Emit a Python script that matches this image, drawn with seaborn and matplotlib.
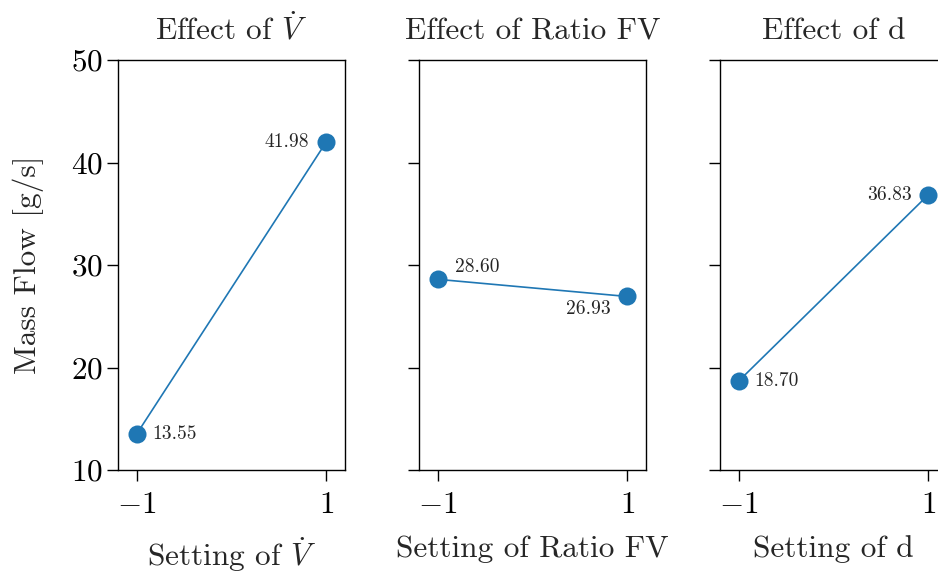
import numpy as np
import pandas as pd
import matplotlib
matplotlib.use("Agg")
import matplotlib.pyplot as plt
import seaborn as sns

# Main-effect data: mean mass flow at each factor setting
factors = [r"$\dot{V}$", "Ratio FV", "d"]
settings = [-1, 1]
mass_flow_vdot = [13.55, 41.98]
mass_flow_ratio = [28.60, 26.93]
mass_flow_d = [18.70, 36.83]
y_ticks = [10, 20, 30, 40, 50]

series = [mass_flow_vdot, mass_flow_ratio, mass_flow_d]
# label placement (offset points, alignment) for the low / high setting
label_offsets = [
    [((11, 0), "left", "center"), ((-12, 0), "right", "center")],
    [((12, 9), "left", "center"), ((-12, -9), "right", "center")],
    [((11, 0), "left", "center"), ((-12, 0), "right", "center")],
]

sns.set_style("ticks")
plt.rcParams.update({
    "font.family": "cmr10",
    "mathtext.fontset": "cm",
    "axes.formatter.use_mathtext": True,
    "axes.unicode_minus": True,
    "axes.edgecolor": "black",
    "axes.linewidth": 1.0,
    "xtick.color": "black",
    "ytick.color": "black",
    "xtick.major.size": 8,
    "ytick.major.size": 8,
    "xtick.major.width": 1.0,
    "ytick.major.width": 1.0,
    "xtick.major.pad": 7,
    "ytick.major.pad": 3,
    "xtick.labelsize": 22.5,
    "ytick.labelsize": 22.5,
})

fig = plt.figure(figsize=(9.38, 5.73), dpi=100)
W, H = 938, 573
lefts = [118, 419, 720]
width = 227
top, bottom = 60, 470
axes = []
for i, lx in enumerate(lefts):
    ax = fig.add_axes([lx / W, 1 - bottom / H, width / W, (bottom - top) / H])
    axes.append(ax)

color = "#1f77b4"
for i, (ax, name, vals) in enumerate(zip(axes, factors, series)):
    df = pd.DataFrame({"setting": settings, "flow": vals})
    sns.lineplot(data=df, x="setting", y="flow", ax=ax, color=color,
                 marker="o", markersize=13, markeredgewidth=0, linewidth=1.2)
    for (s, v), ((dx, dy), ha, va) in zip(zip(settings, vals), label_offsets[i]):
        ax.annotate(f"{v:.2f}", (s, v), xytext=(dx, dy), textcoords="offset points",
                    ha=ha, va=va, fontsize=14)
    ax.set_xlim(-1.2, 1.2)
    ax.set_ylim(10, 50)
    ax.set_xticks(settings)
    ax.set_yticks(y_ticks)
    ax.set_title(f"Effect of {name}", fontsize=22.5, pad=15)
    ax.set_xlabel(f"Setting of {name}", fontsize=22.5, labelpad=12)
    if i == 0:
        ax.set_ylabel("Mass Flow [g/s]", fontsize=22.5, labelpad=19)
    else:
        ax.set_ylabel("")
        ax.tick_params(labelleft=False)
    for sp in ax.spines.values():
        sp.set_visible(True)

fig.savefig("out.png", dpi=100)
